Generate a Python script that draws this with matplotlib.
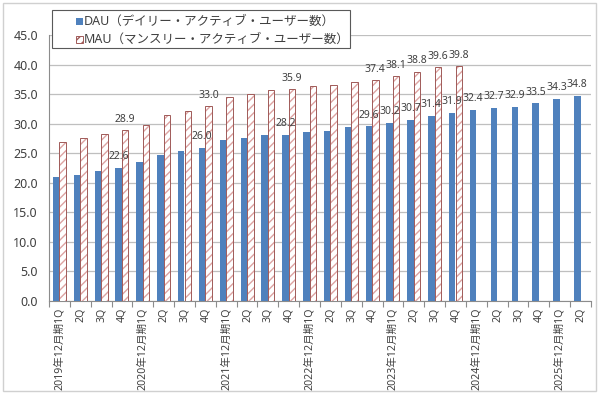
import matplotlib
matplotlib.use("Agg")
import matplotlib.pyplot as plt
from matplotlib.patches import Rectangle
import numpy as np

plt.rcParams['font.family'] = ['Noto Sans', 'Noto Sans CJK JP']
plt.rcParams['hatch.linewidth'] = 1.0

categories = ["2019年12月期1Q", "2Q", "3Q", "4Q",
              "2020年12月期1Q", "2Q", "3Q", "4Q",
              "2021年12月期1Q", "2Q", "3Q", "4Q",
              "2022年12月期1Q", "2Q", "3Q", "4Q",
              "2023年12月期1Q", "2Q", "3Q", "4Q",
              "2024年12月期1Q", "2Q", "3Q", "4Q",
              "2025年12月期1Q", "2Q"]
dau = [21.0, 21.4, 22.0, 22.6, 23.6, 24.7, 25.4, 26.0, 27.2, 27.6, 28.1, 28.2,
       28.7, 28.8, 29.4, 29.6, 30.2, 30.7, 31.4, 31.9, 32.4, 32.7, 32.9, 33.5,
       34.3, 34.8]
mau = [26.9, 27.7, 28.3, 28.9, 29.9, 31.5, 32.2, 33.0, 34.5, 35.1, 35.8, 35.9,
       36.5, 36.6, 37.1, 37.4, 38.1, 38.8, 39.6, 39.8]
dau_labeled = [3, 7, 11, 15, 16, 17, 18, 19, 20, 21, 22, 23, 24, 25]
mau_labeled = [3, 7, 11, 15, 16, 17, 18, 19]
yticks = [0, 5, 10, 15, 20, 25, 30, 35, 40, 45]

dau_label = "DAU（デイリー・アクティブ・ユーザー数）"
mau_label = "MAU（マンスリー・アクティブ・ユーザー数）"

blue = "#4F81BD"
hatch_c = "#DDA3A2"
edge_c = "#A05A58"
grid_c = "#BFBFBF"
text_c = "#404040"

W, H = 600, 394
fig = plt.figure(figsize=(W / 100, H / 100), dpi=100)


def fx(px):
    return px / W


def fy(py):
    return 1 - py / H


fig.add_artist(Rectangle((fx(3), fy(391)), fx(593), 388 / H, transform=fig.transFigure,
                         fill=False, edgecolor="#D0D0D0", linewidth=1.0, zorder=0))
ax = fig.add_axes([fx(49), fy(301), fx(542), (301 - 35.4) / H])
ax.set_zorder(1)

x = np.arange(len(categories))
w = 0.31
xd = x - w / 2
xm = np.arange(len(mau)) + w / 2

ax.bar(xd, dau, width=w, color=blue, edgecolor="none", zorder=3)
ax.bar(xm, mau, width=w, color="white", edgecolor=hatch_c, hatch="////", linewidth=0, zorder=3)
ax.bar(xm, mau, width=w, fill=False, edgecolor=edge_c, linewidth=0.7, zorder=4)

for i in dau_labeled:
    ax.annotate(f"{dau[i]:.1f}", (xd[i], dau[i]), xytext=(0, 4), textcoords="offset points",
                ha="center", va="bottom", fontsize=7.5, color=text_c, zorder=5)
for i in mau_labeled:
    ax.annotate(f"{mau[i]:.1f}", (xm[i], mau[i]), xytext=(0, 4), textcoords="offset points",
                ha="center", va="bottom", fontsize=7.5, color=text_c, zorder=5)

ax.set_xlim(-0.5, len(categories) - 0.5)
ax.set_ylim(0, 45)
ax.set_yticks(yticks)
ax.set_yticklabels([f"{v:.1f}" for v in yticks], fontsize=9, color=text_c)
ax.yaxis.grid(True, color=grid_c, linewidth=0.9, zorder=0)
ax.set_axisbelow(True)
ax.tick_params(axis="y", length=0, pad=8)

ax.set_xticks(x)
ax.set_xticklabels(categories, rotation=90, fontsize=7.6, color=text_c, va="top")
ax.tick_params(axis="x", which="major", length=0, pad=5)
ax.set_xticks(np.arange(-0.5, len(categories) + 0.5, 1.0), minor=True)
ax.tick_params(axis="x", which="minor", length=4, color="#8C8C8C", width=0.8)

for s in ["top", "right"]:
    ax.spines[s].set_visible(False)
for s in ["left", "bottom"]:
    ax.spines[s].set_color("#8C8C8C")
    ax.spines[s].set_linewidth(0.8)

# legend box (drawn above the axes)
fig.add_artist(Rectangle((fx(52), fy(48)), fx(298), 38 / H, transform=fig.transFigure,
                         facecolor="white", edgecolor="#595959", linewidth=0.8, zorder=10))
fig.add_artist(Rectangle((fx(76), fy(24.5)), fx(6.5), 6.5 / H, transform=fig.transFigure,
                         facecolor=blue, edgecolor="none", zorder=11))
fig.add_artist(Rectangle((fx(76), fy(43)), fx(7), 7 / H, transform=fig.transFigure,
                         facecolor="white", edgecolor=edge_c, hatch="////", linewidth=0.7, zorder=11))
fig.text(fx(84), fy(21.3), dau_label, fontsize=9, color=text_c, va="center", ha="left", zorder=12)
fig.text(fx(84), fy(39.5), mau_label, fontsize=9, color=text_c, va="center", ha="left", zorder=12)

fig.savefig("out.png", dpi=100)
